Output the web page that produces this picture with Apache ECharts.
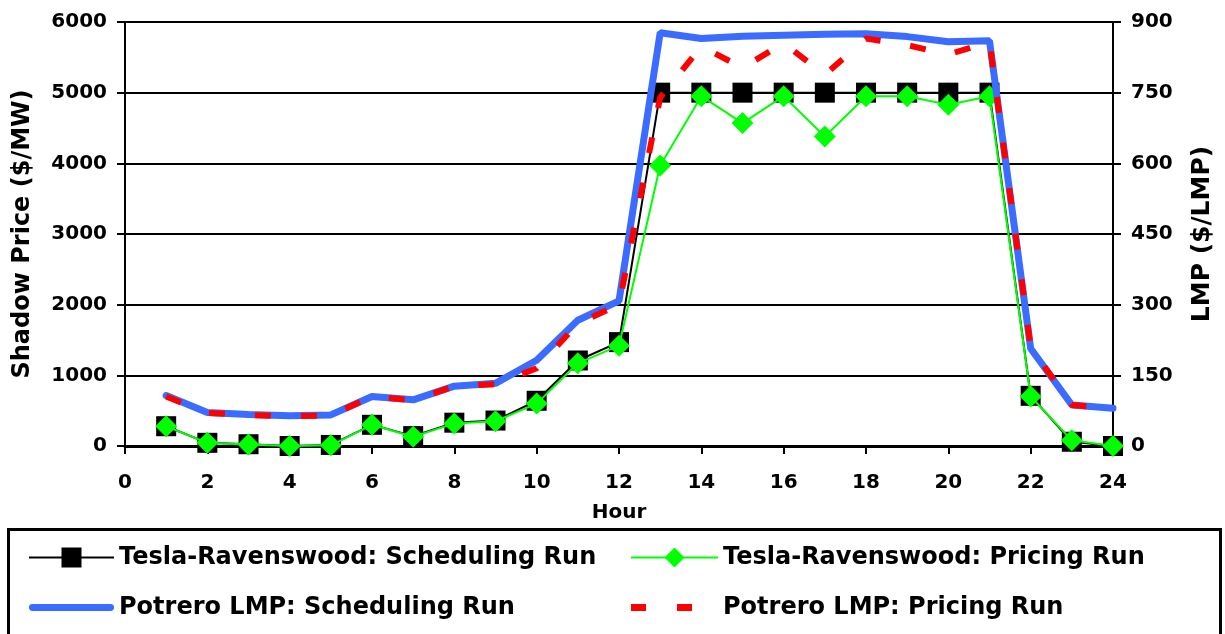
<!DOCTYPE html>
<html>
<head>
<meta charset="utf-8">
<script src="https://cdn.jsdelivr.net/npm/echarts@6/dist/echarts.min.js"></script>
<style>
html,body{margin:0;padding:0;background:#fff;}
#chart{width:1225px;height:634px;}
</style>
</head>
<body>
<div id="chart"></div>
<script>
const hours = [1,2,3,4,5,6,7,8,9,10,11,12,13,14,15,16,17,18,19,20,21,22,23,24];
const teslaScheduling = [280,45,25,0,15,300,140,330,360,640,1210,1470,5000,5000,5000,5000,5000,5000,5000,5000,5000,710,60,0];
const teslaPricing = [280,45,20,0,10,300,130,320,350,600,1170,1420,3970,4950,4570,4950,4380,4950,4950,4830,4950,700,80,0];
const potreroScheduling = [107,71,67,64,66,105,98,127,133,182,267,308,877,865,870,872,874,875,869,858,860,207,87,80];
const potreroPricing = [105,70,66,63,65,105,97,127,131,165,260,300,740,848,803,855,788,865,851,831,858,210,87,80];
const seriesNames = ['Tesla-Ravenswood: Scheduling Run','Tesla-Ravenswood: Pricing Run','Potrero LMP: Scheduling Run','Potrero LMP: Pricing Run'];

const pair = arr => hours.map((h,i)=>[h, arr[i]]);
const FONT = 'DejaVu Sans';
const chart = echarts.init(document.getElementById('chart'), null, {renderer:'canvas'});
chart.setOption({
  animation:false,
  backgroundColor:'#fff',
  textStyle:{fontFamily:FONT, fontWeight:'bold', color:'#000'},
  grid:{left:125, right:112, top:22, bottom:188},
  xAxis:{
    type:'value', min:0, max:24, interval:2,
    name:'Hour', nameLocation:'middle', nameGap:57,
    nameTextStyle:{fontFamily:FONT, fontWeight:'bold', fontSize:20, color:'#000'},
    axisLine:{show:true, onZero:false, lineStyle:{color:'#000', width:3}},
    axisTick:{show:true, length:8, lineStyle:{color:'#000', width:2}},
    axisLabel:{fontFamily:FONT, fontWeight:'bold', fontSize:20, color:'#000', margin:27},
    splitLine:{show:false}
  },
  yAxis:[{
    type:'value', min:0, max:6000, interval:1000, position:'left',
    name:'Shadow Price ($/MW)', nameLocation:'middle', nameGap:90, nameRotate:90,
    nameTextStyle:{fontFamily:FONT, fontWeight:'bold', fontSize:24, color:'#000'},
    axisLine:{show:true, lineStyle:{color:'#000', width:2}},
    axisTick:{show:true, length:8, lineStyle:{color:'#000', width:2}},
    axisLabel:{fontFamily:FONT, fontWeight:'bold', fontSize:20, color:'#000', margin:18, formatter:v=>String(v)},
    splitLine:{show:true, lineStyle:{color:'#000', width:2}}
  },{
    type:'value', min:0, max:900, interval:150, position:'right',
    name:'LMP ($/LMP)', nameLocation:'middle', nameGap:77, nameRotate:90,
    nameTextStyle:{fontFamily:FONT, fontWeight:'bold', fontSize:25, color:'#000'},
    axisLine:{show:true, lineStyle:{color:'#000', width:2}},
    axisTick:{show:true, length:8, lineStyle:{color:'#000', width:2}},
    axisLabel:{fontFamily:FONT, fontWeight:'bold', fontSize:20, color:'#000', margin:18, formatter:v=>String(v)},
    splitLine:{show:false}
  }],
  legend:[{
    orient:'vertical', left:28, top:545, padding:0, itemWidth:85, itemHeight:25, itemGap:25,
    selectedMode:false,
    textStyle:{fontFamily:FONT, fontWeight:'bold', fontSize:24, lineHeight:25, color:'#000'},
    data:[
      {name:seriesNames[0]},
      {name:seriesNames[2], icon:'path://M3,0H82A3.5,3.5 0 0 1 82,7H3A3.5,3.5 0 0 1 3,0Z'}
    ]
  },{
    orient:'vertical', left:630, top:545, padding:0, itemWidth:87, itemHeight:25, itemGap:25,
    selectedMode:false,
    textStyle:{fontFamily:FONT, fontWeight:'bold', fontSize:24, lineHeight:25, color:'#000'},
    data:[
      {name:seriesNames[1]},
      {name:seriesNames[3], icon:'path://M0,0H15V7H0Z M46,0H61V7H46Z M87,0L87,7'}
    ]
  }],
  graphic:[{
    type:'rect', left:6, top:527, z:-1,
    shape:{width:1212, height:130},
    style:{fill:'none', stroke:'#000', lineWidth:3}
  }],
  series:[{
    name:seriesNames[0], type:'line', yAxisIndex:0, data:pair(teslaScheduling),
    symbol:'rect', symbolSize:20, z:2,
    lineStyle:{color:'#000', width:2}, itemStyle:{color:'#000'}
  },{
    name:seriesNames[1], type:'line', yAxisIndex:0, data:pair(teslaPricing),
    symbol:'diamond', symbolSize:[22,22], z:3,
    lineStyle:{color:'#00ff00', width:2}, itemStyle:{color:'#00ff00'}
  },{
    name:seriesNames[2], type:'line', yAxisIndex:1, data:pair(potreroScheduling),
    symbol:'none', z:4,
    lineStyle:{color:'#3b6bff', width:7, cap:'round'}, itemStyle:{color:'#3b6bff'}
  },{
    name:seriesNames[3], type:'line', yAxisIndex:1, data:pair(potreroPricing),
    symbol:'none', z:5,
    lineStyle:{color:'#ff0000', width:6, type:[16,30]}, itemStyle:{color:'#ff0000'}
  }]
});
</script>
</body>
</html>
